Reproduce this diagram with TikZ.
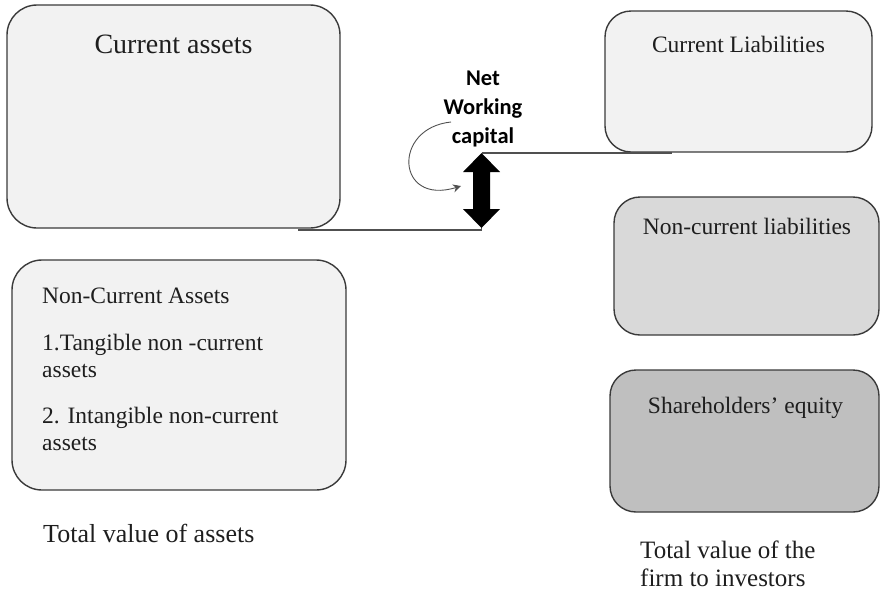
\documentclass[tikz,border=0pt]{standalone}
\usepackage{fontspec}
\setmainfont{Liberation Serif}
\newfontfamily\nwcfont{Carlito}
\usetikzlibrary{arrows.meta}

\definecolor{paleA}{HTML}{F2F2F2}
\definecolor{midB}{HTML}{D9D9D9}
\definecolor{darkC}{HTML}{BFBFBF}
\definecolor{edge}{HTML}{3A3A3A}
\definecolor{ink}{HTML}{1E1E1E}
\definecolor{wire}{HTML}{505050}

\begin{document}
\begin{tikzpicture}[x=1pt,y=-1pt,
  panel/.style={draw=edge, line width=1.4pt, rounded corners=#1, inner sep=0pt},
  panel/.default=26pt,
  caption/.style={inner sep=0pt, text=ink, font=\fontsize{23.5}{27}\selectfont},
  conn/.style={draw=wire, line width=1.2pt},
  turnarrow/.style={draw=wire, line width=0.9pt, -{Stealth[length=8pt,width=8pt]}}
]
\useasboundingbox (0,0) rectangle (880,590);

% asset side
\node[panel=30pt, fill=paleA, minimum width=333pt, minimum height=223pt] (ca) at (173.5,116.5) {};
\node[caption, anchor=base, font=\fontsize{28}{32}\selectfont] (catitle) at (173.5,53) {Current assets};

\node[panel=30pt, fill=paleA, minimum width=334pt, minimum height=230pt] (nca) at (179,375) {};
\node[caption, anchor=base west] (ncatitle) at (42,303) {Non-Current Assets};
\node[caption, anchor=base west] (ncaone) at (42,350) {1.Tangible non -current};
\node[caption, anchor=base west] (ncaonb) at (42,377) {assets};
\node[caption, anchor=base west] (ncatwo) at (42,423) {2. Intangible non-current};
\node[caption, anchor=base west] (ncatwb) at (42,450) {assets};

\node[caption, anchor=base west, font=\fontsize{26}{30}\selectfont] (totassets) at (43,542) {Total value of assets};

% liability side
\node[panel, fill=paleA, minimum width=267pt, minimum height=141pt] (cl) at (738.5,81.5) {};
\node[caption, anchor=base] (cltitle) at (738.5,52) {Current Liabilities};

\node[panel, fill=midB, minimum width=265pt, minimum height=138pt] (ncl) at (746.5,266) {};
\node[caption, anchor=base] (ncltitle) at (747,234) {Non-current liabilities};

\node[panel, fill=darkC, minimum width=269pt, minimum height=142pt] (se) at (744.5,441) {};
\node[caption, anchor=base] (setitle) at (745.5,413) {Shareholders’ equity};

% a multi-line node's base anchor sits on its last line
\node[caption, anchor=base west, align=left, font=\fontsize{25}{28}\selectfont] (totfirm) at (640,586)
  {Total value of the\\firm to investors};

% net working capital
\node[inner sep=0pt, text=black, align=center, font=\nwcfont\bfseries\fontsize{22.5}{29}\selectfont,
      anchor=base] (nwclabel) at (483,143) {Net\\Working\\capital};

% fat double-headed arrow between the two levels
\coordinate (nwcTop) at (481.5,153);
\coordinate (nwcBot) at (481.5,228);
\fill[black] (nwcTop) -- ++(18.5,19) -- ++(-10,0) -- ++(0,37) -- ++(10,0) -- (nwcBot)
  -- ++(-18.5,-19) -- ++(10,0) -- ++(0,-37) -- ++(-10,0) -- cycle;

\coordinate (caLink) at (298,230);
\coordinate (clLink) at (672,153);
\draw[conn] (caLink) -- (nwcBot |- caLink) -- (nwcBot);
\draw[conn] (nwcTop) -- (clLink);

% turning arrow beside the label
\coordinate (turnA) at (451,122);
\coordinate (turnB) at (461,186);
\draw[turnarrow] (turnA) .. controls (392,128) and (396,206) .. (turnB);
\end{tikzpicture}
\end{document}
